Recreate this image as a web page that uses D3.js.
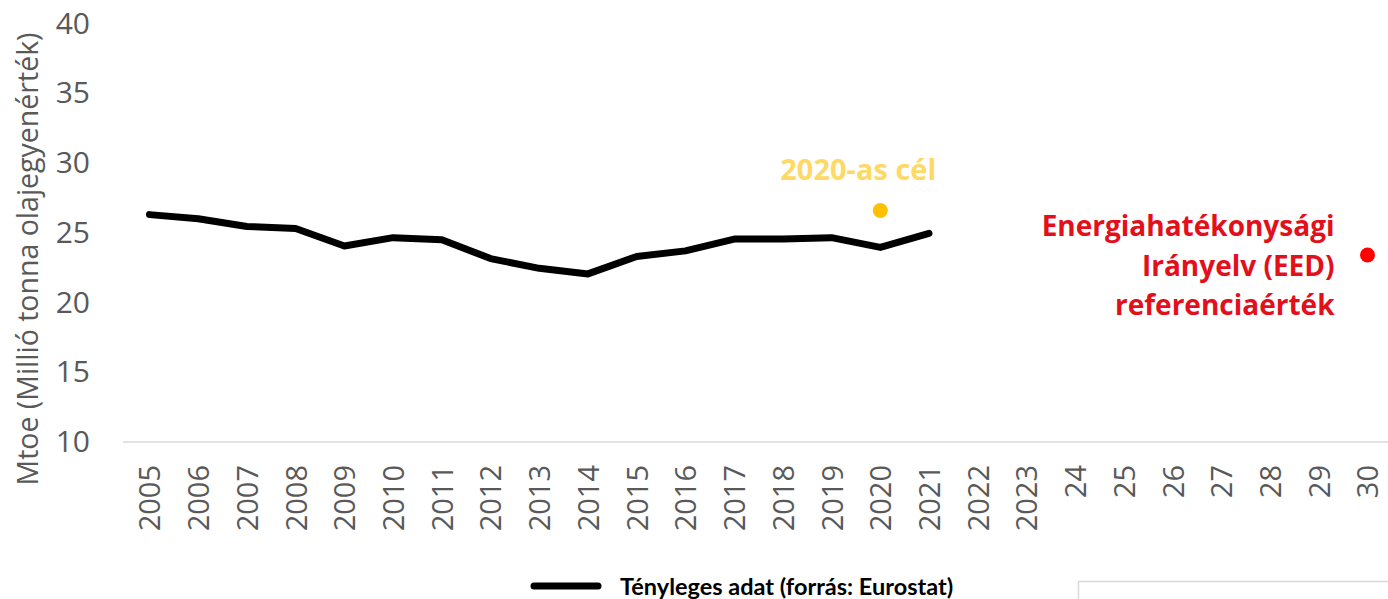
<!DOCTYPE html>
<html>
<head>
<meta charset="utf-8">
<script src="https://cdn.jsdelivr.net/npm/d3@7"></script>
<style>
  html, body { margin: 0; padding: 0; background: #fff; }
  svg { display: block; }
</style>
</head>
<body>
<svg id="chart" width="1388" height="599"></svg>
<script>
// ---- data ----
const categories = ["2005","2006","2007","2008","2009","2010","2011","2012","2013","2014",
  "2015","2016","2017","2018","2019","2020","2021","2022","2023","24","25","26","27","28","29","30"];
const actualYears = ["2005","2006","2007","2008","2009","2010","2011","2012","2013","2014",
  "2015","2016","2017","2018","2019","2020","2021"];
const actualValues = [26.3, 26.0, 25.45, 25.3, 24.05, 24.65, 24.5, 23.15, 22.45, 22.05,
  23.3, 23.7, 24.55, 24.55, 24.65, 23.95, 24.95];
const target2020 = { cat: "2020", value: 26.6, label: "2020-as cél" };
const eedRef = { cat: "30", value: 23.4, label: ["Energiahatékonysági", "Irányelv (EED)", "referenciaérték"] };
const yTicks = [10, 15, 20, 25, 30, 35, 40];
const yTitle = "Mtoe (Millió tonna olajegyenérték)";
const legendLabel = "Tényleges adat (forrás: Eurostat)";

// ---- chart ----
const svg = d3.select("#chart");
const x = d3.scalePoint().domain(categories).range([149.5, 1367.5]);
const y = d3.scaleLinear().domain([10, 40]).range([442, 23.5]);

const gray = "#595959";

// y axis labels
const yAxis = svg.append("g")
  .attr("transform", "translate(123,0)")
  .call(d3.axisLeft(y).tickValues(yTicks).tickSize(0).tickPadding(33).tickFormat(d3.format("d")));
yAxis.select(".domain").remove();
yAxis.selectAll("text")
  .attr("fill", gray)
  .style("font-family", "'Open Sans', sans-serif")
  .style("font-size", "30px");

// baseline
svg.append("line")
  .attr("x1", 123).attr("x2", 1388)
  .attr("y1", y(10)).attr("y2", y(10))
  .attr("stroke", "#d9d9d9").attr("stroke-width", 1.5);

// x axis labels
const xAxis = svg.append("g")
  .attr("transform", `translate(0,${y(10)})`)
  .call(d3.axisBottom(x).tickSize(0));
xAxis.select(".domain").remove();
xAxis.selectAll("text")
  .attr("fill", gray)
  .attr("y", 0)
  .attr("dy", "0.36em")
  .attr("transform", "translate(0,23) rotate(-90)")
  .attr("text-anchor", "end")
  .style("font-family", "'Open Sans', sans-serif")
  .style("font-size", "29px");

// y title
svg.append("text")
  .attr("transform", `translate(28,${259}) rotate(-90)`)
  .attr("text-anchor", "middle")
  .attr("dy", "0.35em")
  .attr("fill", gray)
  .style("font-family", "'Open Sans', sans-serif")
  .style("font-size", "28.5px")
  .text(yTitle);

// actual line
const lineData = actualYears.map((c, i) => ({ c, v: actualValues[i] }));
svg.append("path")
  .datum(lineData)
  .attr("fill", "none")
  .attr("stroke", "#000")
  .attr("stroke-width", 7)
  .attr("stroke-linecap", "round")
  .attr("stroke-linejoin", "round")
  .attr("d", d3.line().x(d => x(d.c)).y(d => y(d.v)));

// 2020 target
svg.append("circle")
  .attr("cx", x(target2020.cat)).attr("cy", y(target2020.value))
  .attr("r", 7.5).attr("fill", "#FFC000");
svg.append("text")
  .attr("x", x(target2020.cat) - 22)
  .attr("y", y(target2020.value) - 30)
  .attr("text-anchor", "middle")
  .attr("fill", "#FFD966")
  .style("font-family", "'Open Sans', sans-serif")
  .style("font-weight", "bold")
  .style("font-size", "29px")
  .text(target2020.label);

// EED reference
svg.append("circle")
  .attr("cx", x(eedRef.cat)).attr("cy", y(eedRef.value))
  .attr("r", 7.5).attr("fill", "#FF0000");
const eedText = svg.append("text")
  .attr("text-anchor", "end")
  .attr("fill", "#E3101B")
  .style("font-family", "'Open Sans', sans-serif")
  .style("font-weight", "bold")
  .style("font-size", "28px");
eedRef.label.forEach((t, i) => {
  eedText.append("tspan")
    .attr("x", x(eedRef.cat) - 33)
    .attr("y", 236 + i * 39.5)
    .text(t);
});

// legend
svg.append("line")
  .attr("x1", 534).attr("x2", 598)
  .attr("y1", 586).attr("y2", 586)
  .attr("stroke", "#000").attr("stroke-width", 7)
  .attr("stroke-linecap", "round");
svg.append("text")
  .attr("x", 620).attr("y", 595)
  .attr("fill", "#000")
  .style("font-family", "Lato, sans-serif")
  .style("font-weight", "bold")
  .style("font-size", "23.5px")
  .text(legendLabel);

// empty box bottom right
svg.append("rect")
  .attr("x", 1078.5).attr("y", 581.5)
  .attr("width", 320).attr("height", 40)
  .attr("fill", "none")
  .attr("stroke", "#d9d9d9").attr("stroke-width", 1.5);
</script>
</body>
</html>
